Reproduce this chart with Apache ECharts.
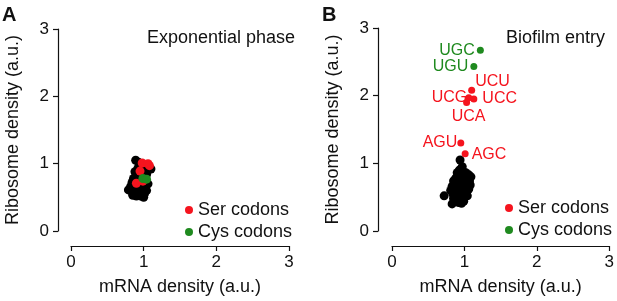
<!DOCTYPE html>
<html>
<head>
<meta charset="utf-8">
<script src="https://cdn.jsdelivr.net/npm/echarts@6/dist/echarts.min.js"></script>
<style>
  html, body { margin: 0; padding: 0; background: #fff; }
  #chart { width: 617px; height: 301px; }
</style>
</head>
<body>
<div id="chart"></div>
<script>
// axis ticks
const ticks = [0, 1, 2, 3];

// panel A: exponential phase (mRNA density, ribosome density)
const expOther = [
  [0.89, 1.05], [0.93, 1.02], [0.97, 0.98], [1.02, 0.95], [1.10, 0.92], [1.06, 0.90],
  [0.92, 0.93], [0.88, 0.88], [0.95, 0.86], [1.00, 0.88], [1.04, 0.84], [0.90, 0.82],
  [0.86, 0.78], [0.93, 0.78], [0.98, 0.80], [1.02, 0.72], [0.84, 0.72], [0.88, 0.70],
  [0.94, 0.72], [0.97, 0.68], [1.03, 0.66], [0.82, 0.66], [0.86, 0.63], [0.90, 0.64],
  [0.95, 0.62], [1.00, 0.62], [1.04, 0.60], [0.79, 0.61], [0.84, 0.58], [0.88, 0.56],
  [0.92, 0.58], [0.97, 0.56], [1.01, 0.55], [0.85, 0.53], [0.90, 0.52], [0.96, 0.52],
  [1.00, 0.50], [0.87, 0.75], [0.91, 0.68], [1.06, 0.70], [0.83, 0.60], [0.99, 0.58]
];
const expSer = [[0.98, 1.01], [1.06, 1.00], [1.08, 0.97], [0.95, 0.89], [0.90, 0.71], [0.99, 0.74]];
const expCys = [[0.99, 0.78], [1.04, 0.77]];

// panel B: biofilm entry
const bioOther = [
  [0.94, 1.05], [0.97, 0.95], [0.93, 0.90], [0.98, 0.88], [1.02, 0.86], [0.90, 0.86],
  [1.06, 0.83], [1.09, 0.80], [0.95, 0.82], [0.99, 0.80], [0.88, 0.78], [0.92, 0.76],
  [1.03, 0.77], [1.07, 0.74], [0.85, 0.74], [0.96, 0.74], [1.00, 0.72], [0.90, 0.70],
  [0.94, 0.68], [0.87, 0.68], [1.04, 0.70], [1.08, 0.68], [0.83, 0.66], [0.98, 0.66],
  [1.02, 0.64], [0.91, 0.64], [0.86, 0.62], [0.95, 0.60], [1.06, 0.62], [0.81, 0.60],
  [0.89, 0.58], [0.99, 0.58], [1.03, 0.56], [0.84, 0.55], [0.93, 0.55], [0.87, 0.52],
  [0.97, 0.52], [1.00, 0.50], [0.72, 0.52], [0.90, 0.48], [0.95, 0.45], [0.99, 0.44],
  [0.83, 0.40], [0.92, 0.42], [0.88, 0.45], [1.04, 0.52], [0.96, 0.41], [0.85, 0.48],
  [1.01, 0.60], [0.93, 0.62]
];
const serCodons = ["UCU", "UCC", "UCG", "UCA", "AGU", "AGC"];
const serMrna = [1.10, 1.13, 1.06, 1.03, 0.95, 1.01];
const serRibo = [2.08, 1.95, 1.97, 1.90, 1.30, 1.14];
const cysCodons = ["UGC", "UGU"];
const cysMrna = [1.22, 1.13];
const cysRibo = [2.67, 2.43];

const RED = "#f5141e";
const GREEN = "#1f8a1f";
const INK = "#111";
const FONT = "Liberation Sans";

const labelStyle = {
  UCU: { position: "right", offset: [-3, -9] },
  UCC: { position: "right", offset: [2, 0] },
  UCG: { position: "left", offset: [5, 0] },
  UCA: { position: "bottom", offset: [2, 0] },
  AGU: { position: "left", offset: [3, 0] },
  AGC: { position: "right", offset: [0, 1] },
  UGC: { position: "left", offset: [1, 0] },
  UGU: { position: "left", offset: [1, 0] }
};

function labelled(names, xs, ys) {
  return names.map((n, i) => ({
    name: n,
    value: [xs[i], ys[i]],
    label: labelStyle[n]
  }));
}

function xAxisFor(gi) {
  return {
    gridIndex: gi, type: "value", min: ticks[0], max: ticks[ticks.length - 1], interval: 1,
    offset: 15,
    name: "mRNA density (a.u.)", nameLocation: "middle", nameGap: 32,
    nameTextStyle: { fontFamily: FONT, fontSize: 18, color: INK },
    axisLine: { show: true, onZero: false, lineStyle: { color: INK, width: 1.2 } },
    axisTick: { show: true, length: 5, lineStyle: { color: INK, width: 1.2 } },
    axisLabel: { fontFamily: FONT, fontSize: 17, color: INK, margin: 8 },
    splitLine: { show: false }
  };
}
function yAxisFor(gi, off) {
  return {
    gridIndex: gi, type: "value", min: ticks[0], max: ticks[ticks.length - 1], interval: 1,
    offset: off,
    name: "Ribosome density (a.u.)", nameLocation: "middle", nameGap: 36,
    nameTextStyle: { fontFamily: FONT, fontSize: 18, color: INK },
    axisLine: { show: true, onZero: false, lineStyle: { color: INK, width: 1.2 } },
    axisTick: { show: true, length: 5, lineStyle: { color: INK, width: 1.2 } },
    axisLabel: { fontFamily: FONT, fontSize: 17, color: INK, margin: 9 },
    splitLine: { show: false }
  };
}

const legendBase = {
  data: ["Ser codons", "Cys codons"], orient: "vertical",
  icon: "circle", itemWidth: 8, itemHeight: 8, itemGap: 4,
  textStyle: { fontFamily: FONT, fontSize: 18, color: INK }
};

const chart = echarts.init(document.getElementById("chart"));
chart.setOption({
  animation: false,
  title: [
    { text: "A", left: -3, top: 0, textStyle: { fontFamily: FONT, fontSize: 20, fontWeight: "bold", color: INK } },
    { text: "B", left: 317, top: 0, textStyle: { fontFamily: FONT, fontSize: 20, fontWeight: "bold", color: INK } },
    { text: "Exponential phase", right: 317, top: 24, textStyle: { fontFamily: FONT, fontSize: 18, fontWeight: "normal", color: INK } },
    { text: "Biofilm entry", right: 7, top: 24, textStyle: { fontFamily: FONT, fontSize: 18, fontWeight: "normal", color: INK } }
  ],
  legend: [
    Object.assign({ left: 180, top: 196 }, legendBase),
    Object.assign({ left: 500, top: 194 }, legendBase)
  ],
  grid: [
    { left: 71, top: 29, width: 218, height: 203 },
    { left: 392, top: 28, width: 219, height: 203 }
  ],
  xAxis: [xAxisFor(0), xAxisFor(1)],
  yAxis: [yAxisFor(0, 13), yAxisFor(1, 14)],
  series: [
    { name: "Other", type: "scatter", xAxisIndex: 0, yAxisIndex: 0, symbolSize: 9,
      itemStyle: { color: "#000", opacity: 1 }, data: expOther },
    { name: "Ser codons", type: "scatter", xAxisIndex: 0, yAxisIndex: 0, symbolSize: 9,
      itemStyle: { color: RED, opacity: 1 }, data: expSer },
    { name: "Cys codons", type: "scatter", xAxisIndex: 0, yAxisIndex: 0, symbolSize: 9,
      itemStyle: { color: GREEN, opacity: 1 }, data: expCys },
    { name: "Other", type: "scatter", xAxisIndex: 1, yAxisIndex: 1, symbolSize: 9,
      itemStyle: { color: "#000", opacity: 1 }, data: bioOther },
    { name: "Ser codons", type: "scatter", xAxisIndex: 1, yAxisIndex: 1, symbolSize: 7,
      itemStyle: { color: RED, opacity: 1 },
      label: { show: true, formatter: "{b}", fontFamily: FONT, fontSize: 16, color: RED, distance: 3 },
      data: labelled(serCodons, serMrna, serRibo) },
    { name: "Cys codons", type: "scatter", xAxisIndex: 1, yAxisIndex: 1, symbolSize: 7,
      itemStyle: { color: GREEN, opacity: 1 },
      label: { show: true, formatter: "{b}", fontFamily: FONT, fontSize: 16, color: GREEN, distance: 3 },
      data: labelled(cysCodons, cysMrna, cysRibo) }
  ]
});
</script>
</body>
</html>
